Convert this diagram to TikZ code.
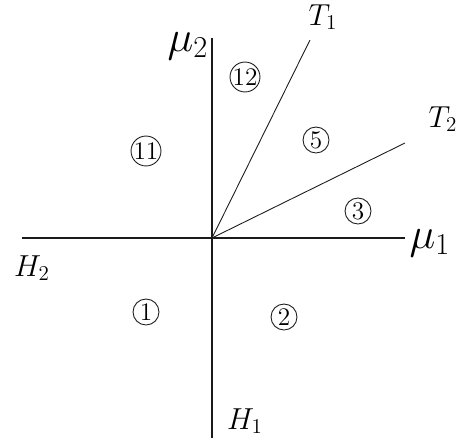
\documentclass[tikz,border=0pt]{standalone}
\usepackage{amsmath,amssymb}
\usepackage{tikz}
\usetikzlibrary{positioning,calc}
\definecolor{cInk}{HTML}{1A1A1A}
\tikzset{
  ax/.style ={cInk,line width=0.7pt},
  ray/.style={cInk,line width=0.5pt},
  num/.style={circle,draw=cInk,line width=0.5pt,inner sep=0pt,minimum size=0.52cm,font=\Large},
  lbl/.style={font=\LARGE,inner sep=1pt},
  mlbl/.style={font=\fontsize{24}{28}\selectfont,inner sep=1pt},
}
\begin{document}
\begin{tikzpicture}[x=0.02cm,y=-0.02cm]
\useasboundingbox (0,0) rectangle (457,443);
\coordinate (o)  at (212,238);
\coordinate (vt) at (212,38);
\coordinate (vb) at (212,438);
\coordinate (hl) at (22,238);
\coordinate (hr) at (405,238);
\coordinate (t1) at (310,40);
\coordinate (t2) at (405,143);
\draw[ax] (vt)--(vb);
\draw[ax] (hl)--(hr);
\draw[ray] (o)--(t1);
\draw[ray] (o)--(t2);
\node[mlbl] (mu2) at (188,46)  {$\mu_2$};
\node[mlbl] (mu1) at (430,243) {$\mu_1$};
\node[lbl]  (T1)  at (323,17)  {$T_1$};
\node[lbl]  (T2)  at (443,119) {$T_2$};
\node[lbl]  (H2)  at (32,268)  {$H_2$};
\node[lbl]  (H1)  at (245,421) {$H_1$};
\node[num] (r12) at (245,77)  {12};
\node[num] (r11) at (146,151) {11};
\node[num] (r5)  at (316,140) {5};
\node[num] (r3)  at (358,211) {3};
\node[num] (r1)  at (146,312) {1};
\node[num] (r2)  at (284,317) {2};
\end{tikzpicture}
\end{document}
